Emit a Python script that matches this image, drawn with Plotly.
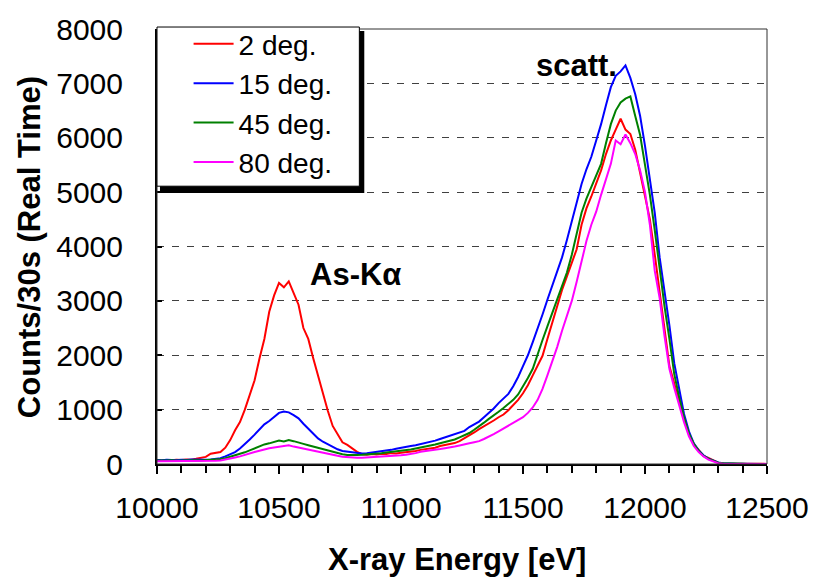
import plotly.graph_objects as go

# X grid (eV), 20 eV steps
energy = list(range(10000, 12501, 20))

series_names = ["2 deg.", "15 deg.", "45 deg.", "80 deg."]
series_colors = ["#FF0000", "#0000FF", "#008000", "#FF00FF"]

counts_2deg = [
    70, 65, 75, 70, 80, 75, 85, 80, 95, 110,
    130, 190, 210, 220, 300, 440, 620, 770, 1000, 1250,
    1540, 1940, 2300, 2800, 3100, 3330, 3250, 3360, 3150, 2930,
    2500, 2300, 1950, 1620, 1260, 980, 700, 540, 400, 350,
    280, 225, 180, 170, 185, 175, 190, 185, 200, 195,
    205, 215, 225, 240, 260, 275, 285, 300, 330, 350,
    370, 385, 420, 470, 520, 580, 640, 690, 740, 800,
    860, 910, 990, 1080, 1180, 1300, 1450, 1630, 1800, 1990,
    2300, 2600, 2900, 3200, 3450, 3700, 3950, 4400, 4700, 4920,
    5150, 5400, 5700, 5950, 6150, 6350, 6150, 6070, 5780, 5350,
    4930, 4500, 3850, 3150, 2450, 1800, 1480, 1130, 820, 560,
    360, 260, 150, 110, 65, 25, 10, 8, 5, 3,
    3, 2, 2, 2, 2, 2,
]

counts_15deg = [
    75, 70, 80, 75, 70, 80, 75, 85, 80, 75,
    80, 85, 95, 105, 140, 175, 220, 285, 360, 450,
    540, 640, 730, 790, 870, 940, 965, 950, 900, 840,
    740, 650, 560, 470, 410, 360, 310, 270, 240, 230,
    220, 205, 195, 200, 210, 225, 235, 250, 260, 280,
    300, 310, 330, 345, 365, 380, 400, 430, 460, 490,
    520, 550, 580, 610, 680, 730, 780, 860, 940, 1020,
    1120, 1200, 1290, 1430, 1600, 1800, 2000, 2240, 2480, 2750,
    3020, 3280, 3530, 3800, 4120, 4470, 4820, 5150, 5420, 5650,
    5950, 6250, 6600, 6930, 7140, 7220, 7330, 7100, 6800, 6400,
    5850, 5230, 4620, 3800, 3200, 2550, 1850, 1350, 920, 600,
    380, 250, 160, 100, 60, 30, 15, 8, 5, 4,
    3, 3, 2, 2, 2, 2,
]

counts_45deg = [
    65, 60, 65, 70, 60, 65, 70, 65, 70, 65,
    70, 75, 80, 90, 105, 130, 160, 185, 215, 250,
    285, 320, 360, 380, 405, 430, 415, 440, 420, 390,
    370, 345, 320, 295, 270, 250, 225, 200, 180, 165,
    160, 165, 170, 175, 185, 190, 200, 210, 220, 230,
    240, 250, 265, 285, 300, 320, 340, 360, 385, 405,
    425, 450, 490, 530, 570, 630, 690, 760, 830, 890,
    960, 1030, 1100, 1180, 1280, 1420, 1580, 1750, 2030, 2280,
    2530, 2780, 3020, 3250, 3520, 3850, 4250, 4620, 4880, 5100,
    5300, 5520, 5900, 6250, 6500, 6650, 6720, 6760, 6400, 6050,
    5500, 4950, 4300, 3550, 2900, 2300, 1650, 1230, 860, 560,
    370, 240, 150, 95, 55, 25, 12, 7, 4, 3,
    3, 2, 2, 2, 2, 2,
]

counts_80deg = [
    50, 50, 55, 50, 55, 50, 55, 50, 55, 50,
    55, 60, 60, 65, 80, 100, 120, 140, 170, 200,
    220, 245, 270, 290, 305, 320, 330, 345, 320, 300,
    280, 265, 245, 225, 205, 190, 170, 150, 135, 125,
    120, 115, 115, 120, 125, 125, 130, 135, 140, 150,
    160, 170, 180, 200, 225, 235, 250, 260, 275, 290,
    300, 320, 340, 365, 380, 400, 420, 460, 500, 550,
    600, 650, 700, 750, 800, 860, 940, 1040, 1180, 1380,
    1630, 1880, 2150, 2450, 2720, 3000, 3350, 3750, 4100, 4400,
    4640, 4950, 5250, 5520, 5950, 5880, 6060, 5900, 5700, 5400,
    5000, 4400, 3550, 3050, 2350, 1750, 1400, 1080, 770, 510,
    330, 220, 140, 80, 45, 15, 5, 4, 3, 3,
    3, 2, 2, 2, 2, 2,
]

all_counts = [counts_2deg, counts_15deg, counts_45deg, counts_80deg]

x_ticks = [10000, 10500, 11000, 11500, 12000, 12500]
x_tick_labels = ["10000", "10500", "11000", "11500", "12000", "12500"]
y_ticks = [0, 1000, 2000, 3000, 4000, 5000, 6000, 7000, 8000]
y_tick_labels = ["0", "1000", "2000", "3000", "4000", "5000", "6000", "7000", "8000"]

FONT = "Liberation Sans, Arial, sans-serif"

fig = go.Figure()
for name, color, vals in zip(series_names, series_colors, all_counts):
    fig.add_trace(go.Scatter(
        x=energy, y=vals, mode="lines", name=name,
        line=dict(color=color, width=2),
    ))

W, H = 821, 578
ML, MR, MT, MB = 157, 46, 24, 114
PW, PH = W - ML - MR, H - MT - MB


def px_x(p):
    return (p - ML) / PW


def px_y(p):
    return (H - MB - p) / PH


fig.update_layout(
    width=W, height=H,
    margin=dict(l=ML, r=MR, t=MT, b=MB, pad=0),
    paper_bgcolor="white", plot_bgcolor="white",
    font=dict(family=FONT, size=30, color="black"),
    showlegend=True,
    legend=dict(
        x=px_x(189), y=px_y(14), xanchor="left", yanchor="top",
        bgcolor="rgba(0,0,0,0)", borderwidth=0,
        font=dict(family=FONT, size=28, color="black"),
        itemwidth=40, tracegroupgap=0,
    ),
    xaxis=dict(
        range=[10000, 12500], tickvals=x_ticks, ticktext=x_tick_labels,
        ticks="outside", ticklen=8, tickwidth=1.5, tickcolor="black",
        minor=dict(dtick=100, tick0=10000, ticks="outside", ticklen=7,
                   tickwidth=1.5, tickcolor="black", showgrid=False),
        showline=True, linewidth=2, linecolor="black",
        showgrid=False, zeroline=False,
        tickfont=dict(family=FONT, size=30, color="black"),
        ticklabelstandoff=8,
    ),
    yaxis=dict(
        range=[0, 8000], tickvals=y_ticks, ticktext=y_tick_labels,
        ticks="inside", ticklen=5, tickwidth=1.5, tickcolor="black",
        showline=True, linewidth=2, linecolor="black",
        showgrid=True, gridcolor="#404040", gridwidth=1, griddash="7px,8px",
        zeroline=False,
        tickfont=dict(family=FONT, size=30, color="black"),
        ticklabelstandoff=26,
    ),
    shapes=[
        # plot-area border (thin, top/right)
        dict(type="rect", xref="paper", yref="paper", x0=0, x1=1, y0=0, y1=1,
             line=dict(color="#303030", width=1), fillcolor="rgba(0,0,0,0)", layer="above"),
        # legend shadow
        dict(type="rect", xref="paper", yref="paper",
             x0=px_x(160), x1=px_x(367), y0=px_y(190), y1=px_y(26),
             line=dict(width=0), fillcolor="black", layer="above"),
        # legend box
        dict(type="rect", xref="paper", yref="paper",
             x0=px_x(157), x1=px_x(362), y0=px_y(183), y1=px_y(22),
             line=dict(color="black", width=1), fillcolor="white", layer="above"),
    ],
    annotations=[
        dict(text="<b>As-Kα</b>", x=10815, y=3480, xref="x", yref="y",
             xanchor="center", yanchor="middle",
             showarrow=False, font=dict(family=FONT, size=31, color="black")),
        dict(text="<b>scatt.</b>", x=11720, y=7330, xref="x", yref="y",
             xanchor="center", yanchor="middle",
             showarrow=False, font=dict(family=FONT, size=31, color="black")),
        dict(text="<b>X-ray Energy [eV]</b>", x=px_x(461), y=px_y(561),
             xref="paper", yref="paper", xanchor="center", yanchor="middle",
             showarrow=False, font=dict(family=FONT, size=31, color="black")),
        dict(text="<b>Counts/30s (Real Time)</b>", x=px_x(28), y=px_y(245),
             xref="paper", yref="paper", xanchor="center", yanchor="middle",
             showarrow=False, textangle=-90,
             font=dict(family=FONT, size=31, color="black")),
    ],
)

fig.write_html("out.html")
